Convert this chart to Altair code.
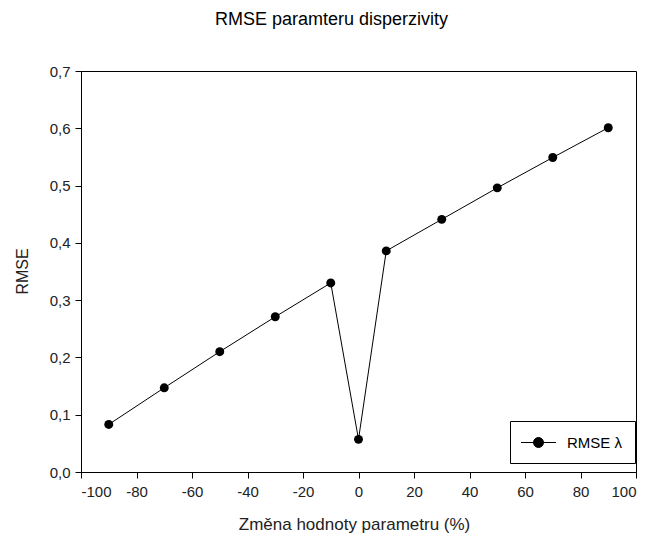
import altair as alt
import pandas as pd

# Percentage change of the dispersivity parameter and the resulting RMSE
zmena = [-90, -70, -50, -30, -10, 0, 10, 30, 50, 70, 90]
rmse = [0.083, 0.147, 0.210, 0.271, 0.330, 0.057, 0.386, 0.441, 0.496, 0.549, 0.601]
serie = ["RMSE λ"] * len(zmena)

x_ticks = [-100, -80, -60, -40, -20, 0, 20, 40, 60, 80, 100]
y_ticks = [0.0, 0.1, 0.2, 0.3, 0.4, 0.5, 0.6, 0.7]

df = pd.DataFrame({"zmena": zmena, "rmse": rmse, "serie": serie})

FONT = "Liberation Sans"

x_enc = alt.X(
    "zmena:Q",
    scale=alt.Scale(domain=[-100, 100], nice=False, zero=False),
    axis=alt.Axis(
        values=x_ticks,
        labelExpr="datum.value < 0 ? '-' + abs(datum.value) : '' + datum.value",
        title="Změna hodnoty parametru (%)",
        titleFontSize=17,
        titleFontWeight="normal",
        titleX=273,
        titleY=52,
        titleBaseline="middle",
        titleAnchor="middle",
        labelFontSize=15,
        labelPadding=6,
        tickSize=6,
        grid=False,
    ),
)
y_enc = alt.Y(
    "rmse:Q",
    scale=alt.Scale(domain=[0, 0.7], nice=False),
    axis=alt.Axis(
        values=y_ticks,
        labelExpr="replace(format(datum.value, '.1f'), '.', ',')",
        title="RMSE",
        titleFontSize=16,
        titleFontWeight="normal",
        titleAngle=-90,
        titleX=-59,
        titleY=200,
        titleAlign="center",
        titleBaseline="middle",
        labelFontSize=15,
        labelPadding=5,
        tickSize=6,
        grid=False,
    ),
)

line = alt.Chart(df).mark_line(color="black", strokeWidth=1).encode(x=x_enc, y=y_enc)

# Legend glyph: a short line through a filled dot
glyph = "M-2,0L2,0M-0.57,0A0.57,0.57 0 1,1 0.57,0A0.57,0.57 0 1,1 -0.57,0Z"

points = alt.Chart(df).mark_point(filled=True, size=80, opacity=1).encode(
    x=x_enc,
    y=y_enc,
    color=alt.Color(
        "serie:N",
        scale=alt.Scale(range=["black"]),
        legend=alt.Legend(
            title=None,
            orient="none",
            legendX=429,
            legendY=350,
            symbolType=glyph,
            symbolSize=306,
            symbolStrokeColor="black",
            symbolStrokeWidth=1,
            symbolFillColor="black",
            symbolOffset=7,
            labelOffset=19,
            labelFontSize=15,
            labelFont=FONT,
            padding=12,
            strokeColor="black",
            cornerRadius=0,
        ),
    ),
)

chart = (
    alt.layer(line, points)
    .properties(
        width=555,
        height=401,
        title=alt.TitleParams(
            "RMSE paramteru disperzivity",
            fontSize=18,
            fontWeight="normal",
            font=FONT,
            anchor="middle",
            dx=-27,
            offset=21,
            baseline="alphabetic",
        ),
        autosize=alt.AutoSizeParams(type="none"),
        padding={"left": 81, "top": 71, "right": 14, "bottom": 64},
    )
    .configure(font=FONT)
    .configure_view(stroke="black", strokeWidth=1)
    .configure_axis(
        domainColor="black",
        tickColor="black",
        labelColor="#222222",
        titleColor="#222222",
        labelFont=FONT,
        titleFont=FONT,
    )
)

chart.save("out.html", embed_options={"renderer": "svg", "actions": False})
